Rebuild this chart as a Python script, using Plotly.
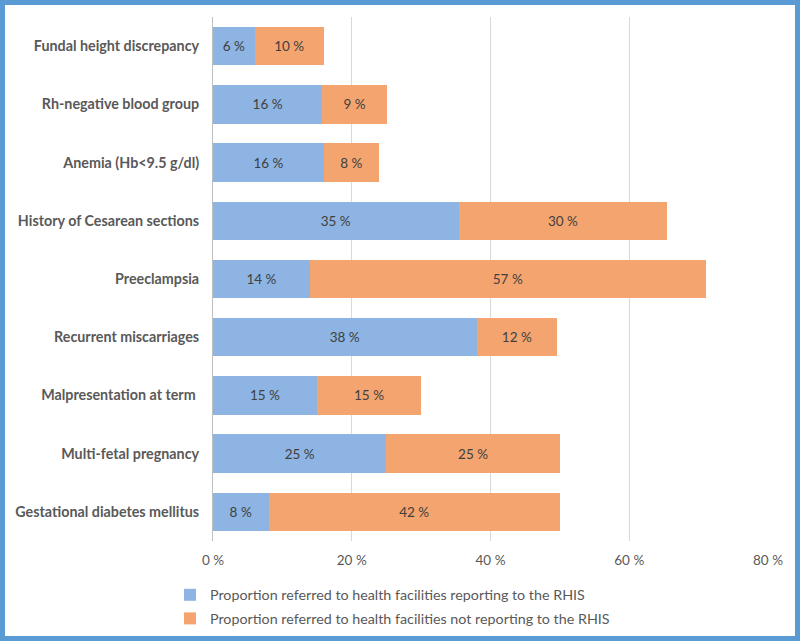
import plotly.graph_objects as go

categories = [
    "Fundal height discrepancy",
    "Rh-negative blood group",
    "Anemia (Hb<9.5 g/dl)",
    "History of Cesarean sections",
    "Preeclampsia",
    "Recurrent miscarriages",
    "Malpresentation at term ",
    "Multi-fetal pregnancy",
    "Gestational diabetes mellitus",
]
reporting = [6.0, 15.75, 16.0, 35.4, 14.0, 38.0, 15.0, 25.0, 8.0]
not_reporting = [10.0, 9.35, 7.9, 30.1, 57.0, 11.6, 15.0, 25.0, 42.0]

tick_vals = [0, 20, 40, 60, 80]
tick_text = ["0 %", "20 %", "40 %", "60 %", "80 %"]

name_rep = "Proportion referred to health facilities reporting to the RHIS"
name_not = "Proportion referred to health facilities not reporting to the RHIS"

FONT = "Lato, 'Open Sans', sans-serif"
W, H = 800, 641
ML, MR, MT, MB = 213, 32, 17, 100

fig = go.Figure()
fig.add_trace(go.Bar(
    y=categories, x=reporting, orientation="h", name=name_rep,
    marker=dict(color="#8DB4E2", line=dict(width=0)),
    texttemplate="%{x:.0f} %", textposition="inside",
    insidetextanchor="middle", textangle=0,
    textfont=dict(color="#404040", size=13.5, family=FONT),
    legendgroup="a",
))
fig.add_trace(go.Bar(
    y=categories, x=not_reporting, orientation="h", name=name_not,
    marker=dict(color="#F4A46E", line=dict(width=0)),
    texttemplate="%{x:.0f} %", textposition="inside",
    insidetextanchor="middle", textangle=0,
    textfont=dict(color="#404040", size=13.5, family=FONT),
    legendgroup="b",
))

# frame around the whole picture, in plot-area paper units
pw = W - ML - MR
ph = H - MT - MB
fx0, fx1 = (2.5 - ML) / pw, (W - 2.5 - ML) / pw
fy0, fy1 = (H - MB - (H - 2.5)) / ph, (H - MB - 2.5) / ph

fig.update_layout(
    width=W, height=H,
    barmode="stack", bargap=0.34,
    margin=dict(l=ML, r=MR, t=MT, b=MB, autoexpand=False),
    paper_bgcolor="white", plot_bgcolor="white",
    font=dict(family=FONT, color="#595959", size=12),
    uniformtext=dict(minsize=12, mode="show"),
    showlegend=True,
    legend=dict(
        x=(170 - ML) / pw, y=(H - MB - 579) / ph, xanchor="left", yanchor="top",
        orientation="v", traceorder="grouped", tracegroupgap=2,
        bgcolor="rgba(0,0,0,0)",
        font=dict(size=14.3, color="#595959", family=FONT),
        itemwidth=30,
    ),
    shapes=[dict(
        type="rect", xref="paper", yref="paper",
        x0=fx0, x1=fx1, y0=fy0, y1=fy1,
        line=dict(color="#5B9BD5", width=5), layer="above",
    )],
)
fig.update_xaxes(
    range=[0, 80], tickvals=tick_vals, ticktext=tick_text,
    showgrid=True, gridcolor="#D9D9D9", gridwidth=1,
    zeroline=False, showline=False,
    tickfont=dict(size=13.5, color="#595959"),
    ticks="", ticklabelstandoff=9,
)
fig.update_yaxes(
    autorange="reversed",
    showline=True, linecolor="#BFBFBF", linewidth=1,
    ticks="", ticklabelstandoff=10,
    tickfont=dict(size=14.3, color="#595959", family=FONT, weight="bold"),
)

fig.write_html("out.html", config={"displayModeBar": False},
               post_script="document.body.style.margin='0';")
